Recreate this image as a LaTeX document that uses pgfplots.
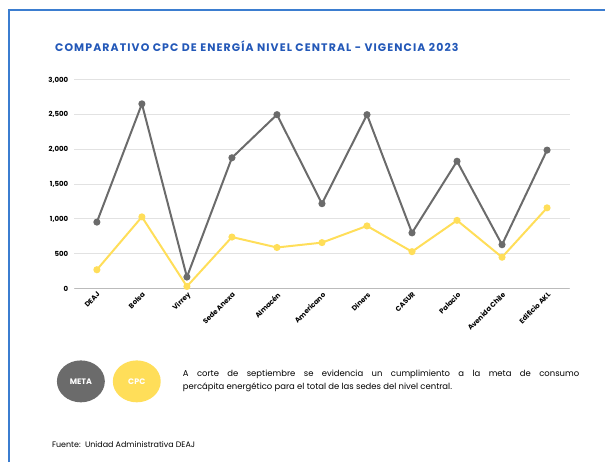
\documentclass[border=0pt]{standalone}
\usepackage{pgfplots}
\pgfplotsset{compat=1.18}
\usepackage{fontspec}
\setmainfont{Poppins}
\definecolor{metagray}{HTML}{6B6B6B}
\definecolor{cpcyellow}{HTML}{FFDE59}
\definecolor{titleblue}{HTML}{2358B8}
\definecolor{borderblue}{HTML}{3B7DD0}
\definecolor{gridgray}{HTML}{E2E2E2}
\begin{document}
\begin{tikzpicture}
\path (0bp,0bp) rectangle (606bp,463bp);
\draw[borderblue,line width=2bp] (9bp,0bp) -- (9bp,453bp) -- (606bp,453bp);
\node[anchor=west,inner sep=0pt,text=titleblue,font=\fontsize{11}{12}\selectfont\bfseries\addfontfeatures{LetterSpace=10}] at (55bp,417bp) {COMPARATIVO CPC DE ENERGÍA NIVEL CENTRAL - VIGENCIA 2023};
\begin{axis}[
  at={(74.5bp,174bp)}, anchor=south west,
  scale only axis, width=496bp, height=209bp,
  xmin=-0.5, xmax=10.5, ymin=0, ymax=3000,
  axis line style={draw=none},
  ytick={0,500,1000,1500,2000,2500,3000},
  ymajorgrids, grid style={gridgray,line width=1bp},
  major tick length=0pt,
  xtick={0,...,10},
  xticklabels={DEAJ,Bolsa,Virrey,Sede Anexa,Almacén,Americano,Diners,CASUR,Palacio,Avenida Chile,Edificio AKL},
  xticklabel style={rotate=45,anchor=north east,font=\fontsize{7}{8}\selectfont\bfseries,inner sep=2pt},
  yticklabel style={font=\fontsize{7}{8}\selectfont\bfseries,inner sep=6pt},
  /pgf/number format/assume math mode=true,
  /pgf/number format/.cd, fixed, 1000 sep={,},
]
\draw[gridgray!60!gray,line width=1bp] (axis cs:-0.5,0) -- (axis cs:10.5,0);
\addplot[metagray,line width=2bp,mark=*,mark size=2.5bp] coordinates {
(0,955) (1,2655) (2,165) (3,1880) (4,2500) (5,1220) (6,2500) (7,800) (8,1830) (9,630) (10,1990)};
\addplot[cpcyellow,line width=2bp,mark=*,mark size=2.5bp] coordinates {
(0,270) (1,1030) (2,30) (3,740) (4,590) (5,660) (6,900) (7,530) (8,980) (9,450) (10,1160)};
\end{axis}
\fill[metagray] (81bp,81bp) ellipse (24bp and 21bp);
\fill[cpcyellow] (137bp,81bp) ellipse (24bp and 21bp);
\node[white,font=\fontsize{8}{9}\selectfont\bfseries] at (81bp,81bp) {META};
\node[white,font=\fontsize{8}{9}\selectfont\bfseries] at (137bp,81bp) {CPC};
\node[anchor=north west,inner sep=0pt,font=\fontsize{8.5}{14}\selectfont] at (183bp,93bp) {\parbox{397bp}{A corte de septiembre se evidencia un cumplimiento a la meta de consumo\linebreak percápita energético para el total de las sedes del nivel central.}};
\node[anchor=west,inner sep=0pt,font=\fontsize{8}{9}\selectfont] at (52bp,18bp) {Fuente:\ \ Unidad Administrativa DEAJ};
\end{tikzpicture}
\end{document}
